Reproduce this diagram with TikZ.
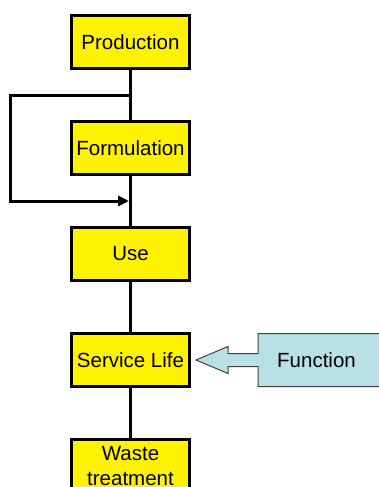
\documentclass[tikz,border=0pt]{standalone}
\usepackage{fontspec}
\setmainfont{Liberation Sans}
\usetikzlibrary{positioning, calc, arrows.meta}
\definecolor{funcblue}{RGB}{185,224,228}
\definecolor{funcline}{RGB}{64,64,64}

\begin{document}
\begin{tikzpicture}[x=1pt, y=1pt,
    stage/.style={draw, line width=3pt, fill=yellow, minimum width=118pt,
        minimum height=53pt, align=center, inner sep=4pt,
        font=\fontsize{20.5}{24.5}\selectfont},
    link/.style={line width=3.5pt}]
\useasboundingbox (0,0) rectangle (379,-487);
\node[stage] (prod) at (130.5,-42) {Production};
\node[stage, below=50pt of prod] (form) {Formulation};
\node[stage, below=50pt of form] (use) {Use};
\node[stage, below=50pt of use] (serv) {Service Life};
\node[stage, below=50pt of serv] (waste) {Waste\\treatment};
\draw[link] (prod) -- (form) (form) -- (use) (use) -- (serv) (serv) -- (waste);
\coordinate (fbout) at ($(prod.south)!0.5!(form.north)$);
\coordinate (fbin) at ($(form.south)!0.5!(use.north)$);
\draw[line width=3pt, -{Triangle[length=11pt,width=10pt]}, shorten >=1.5pt]
    (fbout) -- ++(-120.5,0) |- (fbin);
% callout from the side
\draw[funcline, fill=funcblue, line width=1pt]
    ([xshift=5pt]serv.east) -- ++(32,13.5) -- ++(0,-7) -- ++(30,0)
    -- ++(0,20) -- ++(150,0) -- ++(0,-53) -- ++(-150,0) -- ++(0,20)
    -- ++(-30,0) -- ++(0,-7) -- cycle;
\node[inner sep=0pt, right=86pt of serv, font=\fontsize{20.5}{24.5}\selectfont]
    (func) {Function};
\end{tikzpicture}
\end{document}
